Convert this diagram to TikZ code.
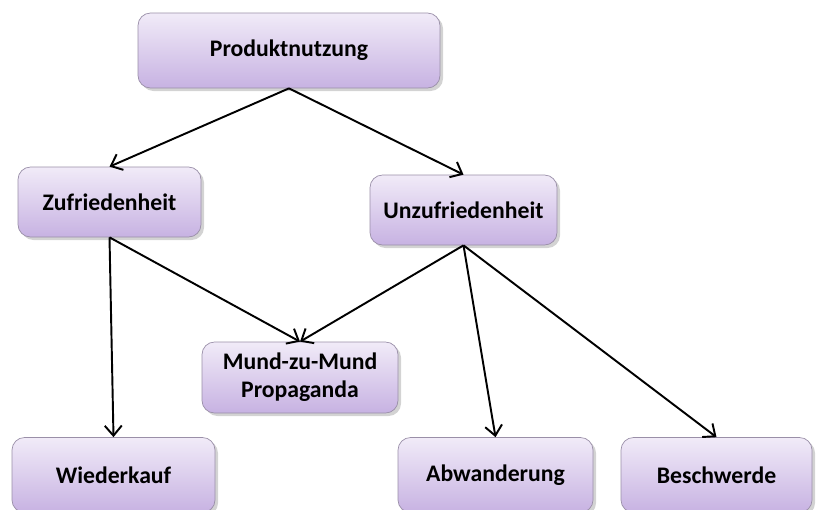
\documentclass[tikz,border=0pt]{standalone}
\usepackage{fontspec}
\setmainfont{Carlito}
\usetikzlibrary{positioning,shadows,arrows.meta}
\definecolor{boxtop}{HTML}{F1EBF8}
\definecolor{boxbottom}{HTML}{C7B2E2}
\definecolor{boxline}{HTML}{9A8FA8}

\begin{document}
\begin{tikzpicture}[semithick,
    stage/.style ={rectangle, rounded corners=2.5mm, draw=boxline, thin,
    top color=boxtop, bottom color=boxbottom,
    drop shadow={opacity=0.35, shadow xshift=0.6mm, shadow yshift=-0.6mm},
    font=\bfseries\fontsize{13.5}{16}\selectfont, align=center,
    minimum height=1.4cm},
    link/.style={-{Straight Barb[length=2mm,width=3.4mm]}, line width=1.1pt}
    ]
    \useasboundingbox (0,0) rectangle (16.4,-10.18);

    \node[stage, minimum width=6.04cm, minimum height=1.5cm] (P) at (5.78,-1.01) {Produktnutzung};
    \node[stage, minimum width=3.66cm] (Z) at (2.19,-4.04) {Zufriedenheit};
    \node[stage, minimum width=3.74cm] (U) at (9.27,-4.2) {Unzufriedenheit};
    \node[stage, minimum width=3.92cm, minimum height=1.42cm] (M) at (6.0,-7.55) {Mund-zu-Mund\\Propaganda};
    \node[stage, minimum width=4.06cm, minimum height=1.5cm] (W) at (2.27,-9.5) {Wiederkauf};
    \node[stage, minimum width=3.9cm, minimum height=1.5cm] (A) at (9.91,-9.5) {Abwanderung};
    \node[stage, minimum width=3.82cm, minimum height=1.5cm] (B) at (14.33,-9.5) {Beschwerde};

    \draw[link] (P.south) -- (Z.north);
    \draw[link] (P.south) -- (U.north);
    \draw[link] (Z.south) -- (W.north);
    \draw[link] (Z.south) -- (M.north);
    \draw[link] (U.south) -- (M.north);
    \draw[link] (U.south) -- (A.north);
    \draw[link] (U.south) -- (B.north);
\end{tikzpicture}
\end{document}
